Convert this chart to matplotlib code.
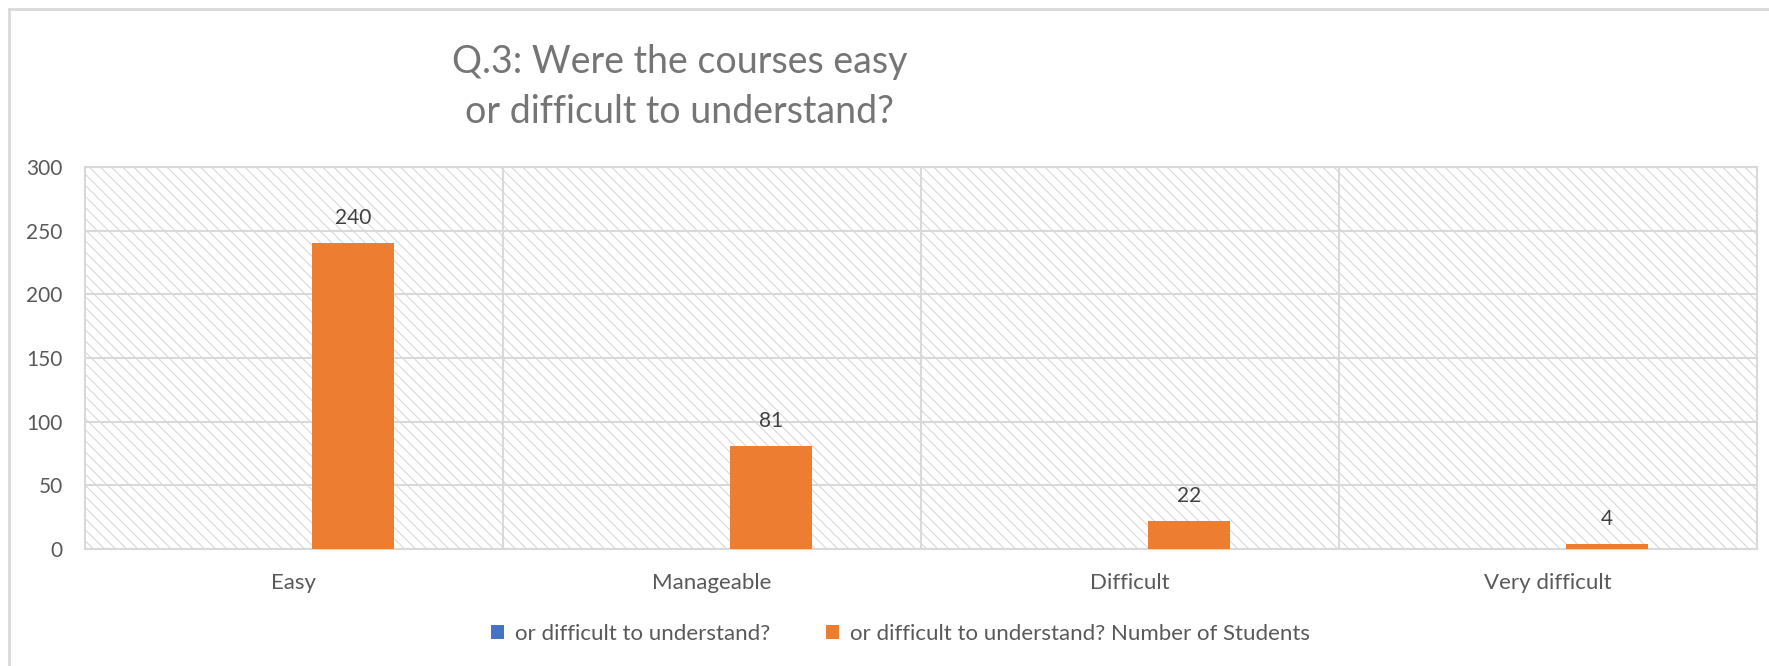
import numpy as np
import matplotlib as mpl
mpl.use('Agg')
import matplotlib.pyplot as plt
from matplotlib.lines import Line2D

categorias = ["Easy", "Manageable", "Difficult", "Very difficult"]
serie_azul = [0, 0, 0, 0]
serie_laranja = [240, 81, 22, 4]
nome_azul = "or difficult to understand?"
nome_laranja = "or difficult to understand? Number of Students"
titulo = "Q.3: Were the courses easy\nor difficult to understand?"

cinza = "#d9d9d9"
texto = "#595959"
plt.rcParams['font.family'] = ['Lato', 'DejaVu Sans']
plt.rcParams['hatch.linewidth'] = 0.7

fig = plt.figure(figsize=(17.69, 6.66), dpi=100)
ax = fig.add_axes([0.048, 0.1757, 0.9452, 0.5735])

# fundo hachurado da area do grafico
ax.patch.set_facecolor("white")
ax.patch.set_edgecolor("#d4d4d4")
ax.patch.set_hatch("\\\\\\")
ax.patch.set_linewidth(0)

x = np.arange(len(categorias))
larg = 0.196
desl = 0.141
ax.bar(x - desl, serie_azul, larg, color="#4472C4", label=nome_azul, zorder=3)
barras = ax.bar(x + desl, serie_laranja, larg, color="#ED7D31", label=nome_laranja, zorder=3)
ax.bar_label(barras, padding=11, fontsize=15, color="#404040")

ax.set_xlim(-0.5, len(categorias) - 0.5)
ax.set_ylim(0, 300)
ax.set_yticks(range(0, 301, 50))
ax.set_xticks(x)
ax.set_xticklabels(categorias, fontsize=16)
ax.set_xticks(x[:-1] + 0.5, minor=True)
ax.grid(axis="y", which="major", color=cinza, linewidth=1.5, zorder=1)
ax.grid(axis="x", which="minor", color=cinza, linewidth=1.5, zorder=1)
ax.set_axisbelow(True)
ax.tick_params(axis="y", length=0, labelsize=15, colors=texto, pad=16)
ax.tick_params(axis="x", which="both", length=0, colors=texto, pad=17)
for s in ax.spines.values():
    s.set_color(cinza)
    s.set_linewidth(1.5)

fig.text(0.384, 0.869, titulo, ha="center", va="center", fontsize=27,
         color="#757575", linespacing=1.48)

ax.legend(loc="center", bbox_to_anchor=(0.509, 0.048), bbox_transform=fig.transFigure,
          ncol=2, frameon=False, fontsize=16, labelcolor=texto,
          handlelength=0.6, handleheight=0.6, handletextpad=0.5, columnspacing=2.5)

# borda externa do grafico
fig.add_artist(Line2D([9 / 1769, 1], [1 - 9 / 666] * 2, transform=fig.transFigure, color=cinza, linewidth=2))
fig.add_artist(Line2D([9 / 1769] * 2, [0, 1 - 9 / 666], transform=fig.transFigure, color=cinza, linewidth=2))

fig.savefig("out.png", dpi=100)
